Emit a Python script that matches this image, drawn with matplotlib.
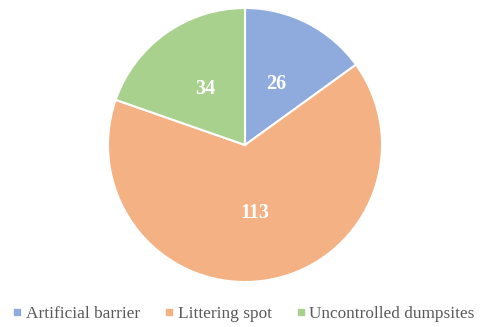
import matplotlib
matplotlib.use("Agg")
import matplotlib.pyplot as plt
from matplotlib.lines import Line2D

categories = ["Artificial barrier", "Littering spot", "Uncontrolled dumpsites"]
values = [26, 113, 34]
colors = ["#8FAADC", "#F4B183", "#A9D18E"]

plt.rcParams['font.family'] = ['Liberation Serif', 'DejaVu Serif']

fig = plt.figure(figsize=(4.8, 3.27), dpi=100)
ax = fig.add_axes([0.225, 0.1376, 274/480, 274/327])
wedges, texts, autotexts = ax.pie(
    values, colors=colors, startangle=90, counterclock=False,
    autopct=lambda p: f"{round(p * sum(values) / 100):d}", pctdistance=0.5,
    wedgeprops=dict(edgecolor="white", linewidth=1.5),
    textprops=dict(color="white", fontsize=14.5, fontweight="bold"))
ax.set_xlim(-1, 1)
ax.set_ylim(-1, 1)
ax.set_aspect("equal")

handles = [Line2D([0], [0], marker="s", linestyle="", markersize=5,
                  markerfacecolor=c, markeredgecolor=c) for c in colors]
fig.legend(handles, categories, loc="center", bbox_to_anchor=(0.505, 0.04),
           ncol=3, frameon=False, fontsize=12.4, handletextpad=0.1,
           columnspacing=1.3, labelcolor="#595959", handlelength=0.8,
           borderpad=0.1, borderaxespad=0.1)

fig.savefig("out.png", dpi=100)
